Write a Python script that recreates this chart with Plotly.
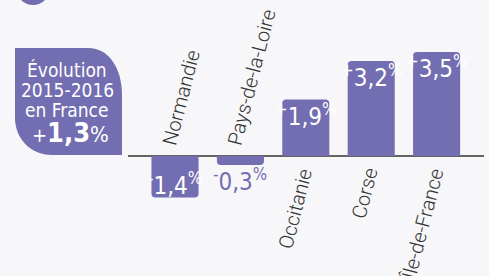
import plotly.graph_objects as go

# ---- data ----
regions = ["Normandie", "Pays-de-la-Loire", "Occitanie", "Corse", "Île-de-France"]
values = [-1.4, -0.3, 1.9, 3.2, 3.5]
value_labels = ["1,4", "0,3", "1,9", "3,2", "3,5"]
france_value = "1,3"
box_lines = ["Évolution", "2015-2016", "en France"]

# ---- style ----
W, H = 489, 276
L, R, T, B = 128, 5, 0, 0
PURPLE = "#736eb1"
BG = "#f7f7f9"
COND = "DejaVu Sans Condensed, Roboto Condensed, Arial Narrow, sans-serif"
LIGHT = "Roboto, Open Sans, sans-serif"
ANG = -75.5

pw, ph = W - L - R, H - T - B
def px(x):
    return (x - L) / pw
def py(y):
    return 1 - (y - T) / ph

fig = go.Figure()
fig.add_trace(go.Bar(
    x=list(range(len(regions))), y=values,
    marker=dict(color=PURPLE, cornerradius=4, line=dict(width=0)),
    width=0.72, hoverinfo="skip",
))

ann = []
for i, (v, lab, name) in enumerate(zip(values, value_labels, regions)):
    sign = "+" if v > 0 else "-"
    txt = f"<sup>{sign}</sup>{lab}<sup>%</sup>"
    if v > 0:
        ann.append(dict(x=i, y=v, text=txt, showarrow=False, yanchor="middle",
                        yshift=-15, font=dict(family=COND, size=24, color="white")))
        ann.append(dict(x=i, y=0, text=name, showarrow=False, textangle=ANG,
                        xanchor="right", yanchor="top", xshift=14, yshift=-7,
                        font=dict(family=LIGHT, size=20, color="#333", weight=300)))
    else:
        inside = abs(v) >= 1
        ann.append(dict(x=i, y=v, text=txt, showarrow=False, yanchor="middle",
                        yshift=14 if inside else -15,
                        font=dict(family=COND, size=24,
                                  color="white" if inside else PURPLE)))
        ann.append(dict(x=i, y=0, text=name, showarrow=False, textangle=ANG,
                        xanchor="left", yanchor="bottom", xshift=-20, yshift=6,
                        font=dict(family=LIGHT, size=20, color="#333", weight=300)))

# title box text
ys = [70, 90, 110]
for t, yy in zip(box_lines, ys):
    ann.append(dict(xref="paper", yref="paper", x=px(67), y=py(yy), text=t,
                    showarrow=False, xanchor="center", yanchor="middle",
                    font=dict(family=COND, size=19, color="white")))
ann.append(dict(xref="paper", yref="paper", x=px(70), y=py(133),
                text=f"<span style='font-size:20px'>+</span><b>{france_value}</b><span style='font-size:22px'>%</span>",
                showarrow=False, xanchor="center", yanchor="middle",
                font=dict(family=COND, size=27, color="white")))

shapes = [
    dict(type="path", xref="paper", yref="paper", layer="below",
         path=(f"M {px(15)},{py(48)} L {px(88)},{py(48)} "
               f"C {px(110)},{py(48)} {px(122)},{py(70)} {px(122)},{py(95)} "
               f"L {px(122)},{py(155)} L {px(52)},{py(155)} "
               f"C {px(30)},{py(155)} {px(15)},{py(138)} {px(15)},{py(118)} Z"),
         fillcolor=PURPLE, line=dict(width=0)),
    dict(type="circle", xref="paper", yref="paper", layer="below",
         x0=px(16), x1=px(50), y0=py(5), y1=py(-29),
         fillcolor=PURPLE, line=dict(width=0)),
]

zero_px = 156
scale = 29.7
fig.update_layout(
    width=W, height=H,
    margin=dict(l=L, r=R, t=T, b=B),
    paper_bgcolor=BG, plot_bgcolor=BG,
    showlegend=False,
    xaxis=dict(range=[(L - 175) / 65.4, (W - R - 175) / 65.4], visible=False,
               showgrid=False, zeroline=False),
    yaxis=dict(range=[-(H - zero_px) / scale, zero_px / scale], showgrid=False,
               zeroline=True, zerolinecolor="#646464", zerolinewidth=2,
               showticklabels=False, ticks=""),
    annotations=ann, shapes=shapes,
)
fig.write_html("out.html", config={"displayModeBar": False, "staticPlot": True},
               post_script="document.body.style.margin='0';document.body.style.background='%s';" % BG)
